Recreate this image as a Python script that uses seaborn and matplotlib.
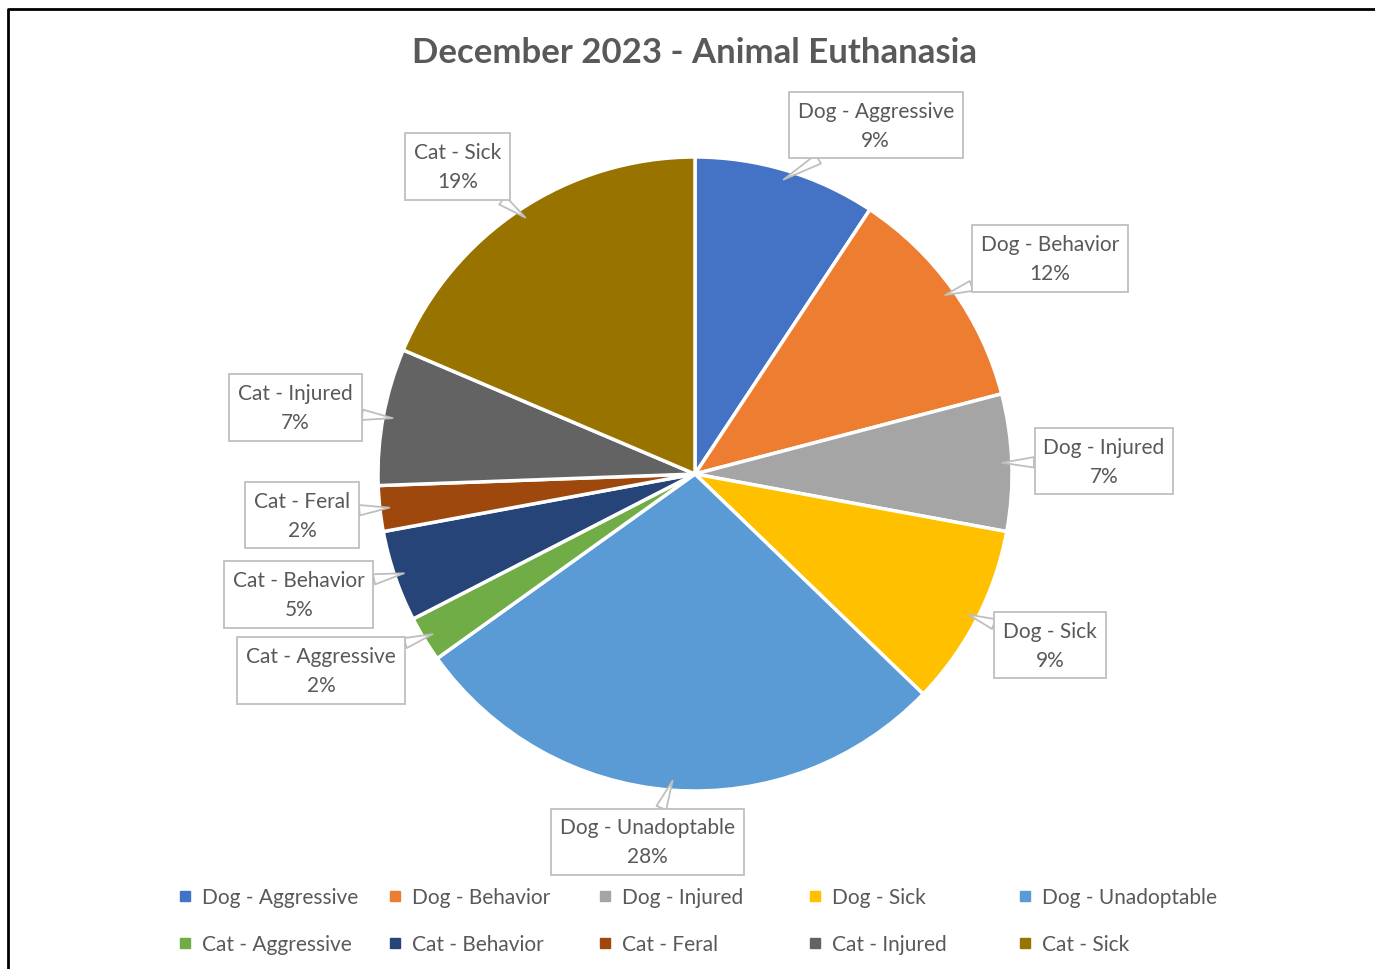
import matplotlib.pyplot as plt
import seaborn as sns
import numpy as np
from matplotlib.lines import Line2D

# counts (total 43)
categories = ["Dog - Aggressive", "Dog - Behavior", "Dog - Injured", "Dog - Sick",
              "Dog - Unadoptable", "Cat - Aggressive", "Cat - Behavior", "Cat - Feral",
              "Cat - Injured", "Cat - Sick"]
counts = [4, 5, 3, 4, 12, 1, 2, 1, 3, 8]
colors = ["#4472C4", "#ED7D31", "#A5A5A5", "#FFC000", "#5B9BD5",
          "#70AD47", "#264478", "#9E480E", "#636363", "#997300"]
# label box centres, in pie radius units
label_x = [0.57, 1.12, 1.29, 1.12, -0.15, -1.18, -1.25, -1.24, -1.26, -0.75]
label_y = [1.10, 0.68, 0.04, -0.54, -1.16, -0.62, -0.38, -0.13, 0.21, 0.97]

sns.set_theme(style="white")
plt.rcParams['font.family'] = ['Lato', 'DejaVu Sans']
text_color = "#595959"

W, H = 1375, 970
fig = plt.figure(figsize=(W / 100, H / 100), dpi=100)
cx, cy, r = 695, H - 475, 317
half = 1.5 * r
ax = fig.add_axes([(cx - half) / W, (cy - half) / H, 2 * half / W, 2 * half / H])

palette = sns.color_palette(colors)
wedges, _ = ax.pie(counts, colors=palette, startangle=90,
                   counterclock=False, radius=1,
                   wedgeprops=dict(edgecolor="white", linewidth=2.5))
ax.set_xlim(-1.5, 1.5)
ax.set_ylim(-1.5, 1.5)
ax.set_aspect("equal")
ax.axis("off")

total = sum(counts)
for w, name, c, lx, ly in zip(wedges, categories, counts, label_x, label_y):
    mid = np.deg2rad((w.theta1 + w.theta2) / 2)
    px, py = np.cos(mid) * 0.97, np.sin(mid) * 0.97
    ax.annotate(f"{name}\n{100 * c / total:.0f}%", xy=(px, py), xytext=(lx, ly),
                ha="center", va="center", fontsize=15, color=text_color,
                linespacing=1.55,
                bbox=dict(boxstyle="square,pad=0.42", fc="white", ec="#BFBFBF", lw=1.3),
                arrowprops=dict(arrowstyle="wedge,tail_width=0.5", fc="white",
                                ec="#BFBFBF", lw=1.3, shrinkA=0, shrinkB=0))

fig.text(695 / W, 1 - 53 / H, "December 2023 - Animal Euthanasia", ha="center",
         va="center", fontsize=25, fontweight="bold", color=text_color)

# legend: 5 fixed-width columns, 2 rows (dogs on top, cats below)
for i in range(5):
    idx = [i, i + 5]
    handles = [Line2D([], [], marker="s", ls="", color=palette[j], markersize=7) for j in idx]
    leg = fig.legend(handles, [categories[j] for j in idx], loc="upper left",
                     bbox_to_anchor=((179 + 210 * i) / W, 1 - 888 / H), frameon=False,
                     fontsize=15, handlelength=0.6, handletextpad=0.5,
                     labelspacing=1.3, borderpad=0, borderaxespad=0)
    for t in leg.get_texts():
        t.set_color(text_color)

# chart area border (only left and top visible)
fig.add_artist(Line2D([8 / W, 8 / W, 1], [0, 1 - 10 / H, 1 - 10 / H],
                      transform=fig.transFigure, color="black", lw=2))

fig.savefig("out.png", dpi=100)
